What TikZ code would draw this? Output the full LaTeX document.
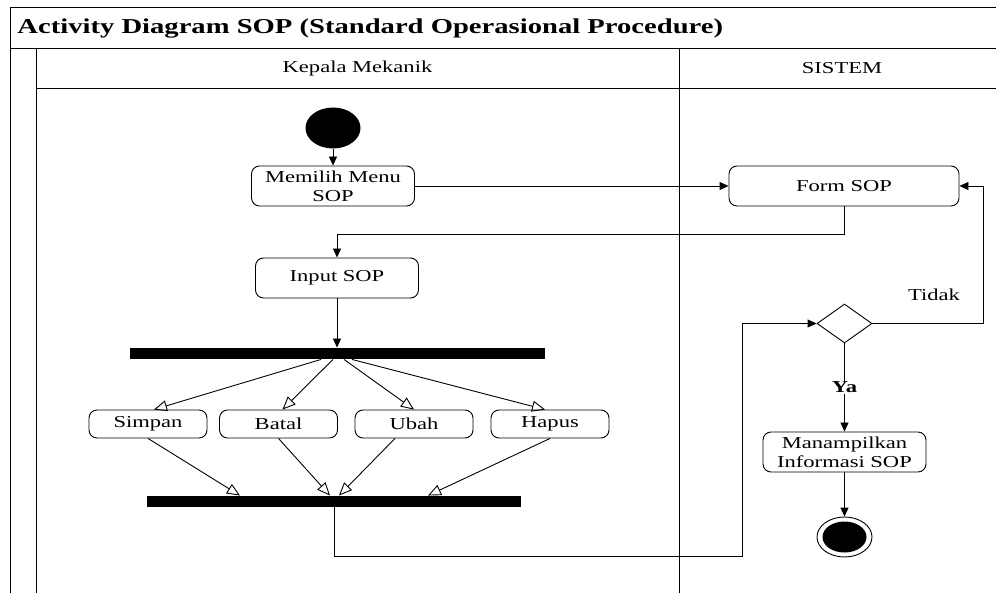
\documentclass[tikz,border=0pt]{standalone}
\usepackage{fontspec}
\setmainfont{Liberation Serif}[FakeStretch=1.35]
\usetikzlibrary{arrows.meta,shapes.geometric}
\newcommand\diafont{\fontsize{16.7pt}{19pt}\selectfont}
\newcommand\headfont{\fontsize{21.2pt}{24pt}\selectfont\bfseries}

\begin{document}
\begin{tikzpicture}[x=1pt,y=-1pt,
font=\diafont,
line width=0.9pt,
act/.style={%
draw,
rounded corners=8pt,
align=center,
minimum width=163pt,
minimum height=40pt,
inner sep=1pt,
},
opt/.style={%
act,
minimum width=118pt,
minimum height=28pt,
},
forkbar/.style={%
fill=black,
minimum height=11pt,
inner sep=0pt,
},
flow/.style={%
-{Triangle[length=9pt,width=8pt]},
},
forkflow/.style={%
-{Triangle[open,length=13pt,width=11pt]},
},
]
\useasboundingbox(0,0)rectangle(996,593);
%% swimlanes
\draw(10,593)--(10,7)--(996,7);
\draw(10,48)--(996,48);
\draw(36,593)--(36,48);
\draw(36,88)--(996,88);
\draw(679,48)--(679,593);
\node[anchor=west,inner sep=0pt,font=\headfont]at(17,28)(title){Activity Diagram SOP (Standard Operasional Procedure)};
\node at(357.5,68)(lane1){Kepala Mekanik};
\node at(842,68)(lane2){SISTEM};
%% Kepala Mekanik
\node[ellipse,fill=black,minimum width=55pt,minimum height=41pt,inner sep=0pt]at(333,128)(start){};
\node[act]at(333,186)(menu){Memilih Menu\\SOP};
\node[act]at(337,278)(input){Input SOP};
\node[forkbar,minimum width=415pt]at(337,353.5)(fork){};
\node[opt]at(148,424)(simpan){Simpan};
\node[opt]at(278.5,424)(batal){Batal};
\node[opt]at(414,424)(ubah){Ubah};
\node[opt]at(550,424)(hapus){Hapus};
\node[forkbar,minimum width=374pt]at(334,501.5)(join){};
%% SISTEM
\node[act,minimum width=230pt]at(844,186)(form){Form SOP};
\node[diamond,draw,minimum width=55pt,minimum height=39pt,inner sep=0pt,aspect=1.4]at(844.5,323.5)(cek){};
\node at(934,295)(tidak){Tidak};
\node[act]at(844.5,452)(tampil){Manampilkan\\Informasi SOP};
\node[ellipse,draw,minimum width=55pt,minimum height=40pt,inner sep=0pt]at(844.5,537)(stop){};
\node[ellipse,fill=black,minimum width=44pt,minimum height=31pt,inner sep=0pt]at(stop)(stopdot){};
%% flows
\draw[flow](start)--(menu);
\draw[flow](menu)--(form);
\draw[flow](form.south)--++(0,28)-|(input.north);
\draw[flow](input)--(fork);
\draw[forkflow]([xshift=-16pt]fork.south)--([xshift=6pt]simpan.north);
\draw[forkflow]([xshift=-4pt]fork.south)--([xshift=4pt]batal.north);
\draw[forkflow]([xshift=7pt]fork.south)--(ubah.north);
\draw[forkflow]([xshift=15pt]fork.south)--([xshift=-5pt]hapus.north);
\draw[forkflow](simpan.south)--([xshift=-94pt]join.north);
\draw[forkflow](batal.south)--([xshift=-4pt]join.north);
\draw[forkflow]([xshift=-19pt]ubah.south)--([xshift=5pt]join.north);
\draw[forkflow](hapus.south)--([xshift=94pt]join.north);
\draw[flow](join.south)--++(0,49)-|([xshift=-74pt]cek.west)--(cek.west);
\draw[flow](cek.east)--++(111,0)|-(form.east);
\draw[flow](cek)--node[fill=white,inner sep=1pt,font=\diafont\bfseries]{Ya}(tampil);
\draw[flow](tampil)--(stop);
\end{tikzpicture}
\end{document}
